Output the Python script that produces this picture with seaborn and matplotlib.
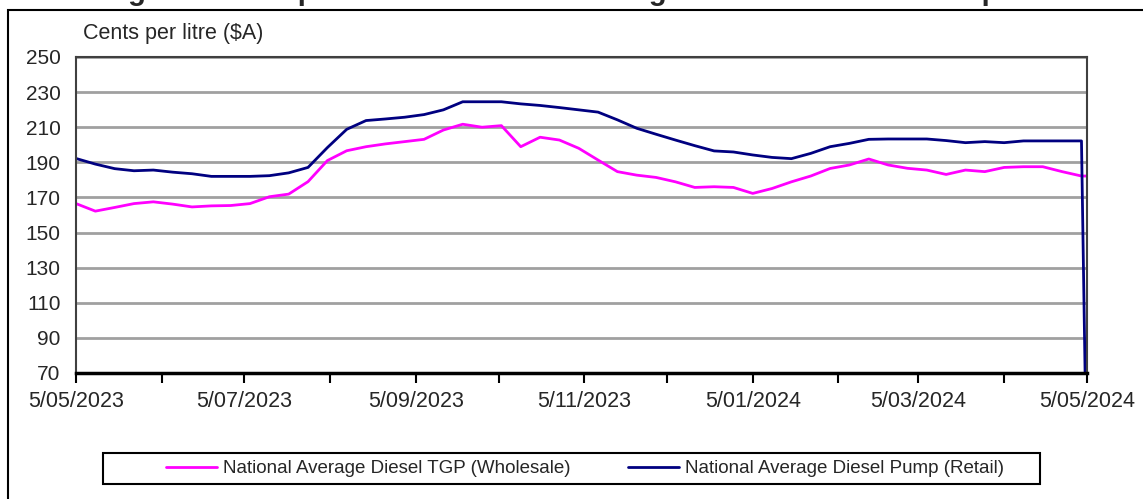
import numpy as np
import pandas as pd
import matplotlib
matplotlib.use('Agg')
import matplotlib.pyplot as plt
import matplotlib.dates as mdates
from matplotlib.patches import Rectangle
import seaborn as sns

# weekly readings from 5/05/2023, last point is 5/05/2024
dates = list(pd.date_range('2023-05-05', periods=53, freq='7D')) + [pd.Timestamp('2024-05-05')]

tgp = [166.5, 162.2, 164.3, 166.5, 167.5, 166.2, 164.6, 165.2, 165.4, 166.5, 170.4, 171.9, 179.0, 191.0,
       196.6, 198.9, 200.5, 201.8, 203.1, 208.4, 211.7, 210.0, 210.9, 198.9, 204.3, 202.7, 198.0,
       191.3, 184.7, 182.7, 181.4, 178.9, 175.7, 176.1, 175.7, 172.3, 175.1, 178.9, 182.2, 186.5,
       188.5, 191.9, 188.5, 186.6, 185.6, 183.1, 185.6, 184.7, 187.1, 187.5, 187.5, 184.7, 182.2,
       182.2]
pump = [192.2, 189.0, 186.4, 185.2, 185.6, 184.4, 183.5, 182.0, 182.0, 182.0, 182.4, 184.0, 187.1, 198.4,
        208.8, 213.8, 214.7, 215.7, 217.2, 219.9, 224.5, 224.5, 224.5, 223.3, 222.4, 221.2, 219.9,
        218.6, 214.2, 209.4, 206.0, 202.7, 199.5, 196.5, 195.9, 194.2, 192.8, 192.1, 195.1, 198.9,
        200.8, 203.1, 203.3, 203.3, 203.3, 202.4, 201.2, 201.8, 201.2, 202.2, 202.2, 202.2, 202.2,
        0.0]

series_names = ['National Average Diesel TGP (Wholesale)', 'National Average Diesel Pump (Retail)']
colours = ['#FF00FF', '#000080']
yticks = [70, 90, 110, 130, 150, 170, 190, 210, 230, 250]

df = pd.DataFrame({'date': dates * 2,
                   'price': tgp + pump,
                   'series': [series_names[0]] * len(dates) + [series_names[1]] * len(dates)})

sns.set_style('white')
plt.rcParams['font.family'] = ['Liberation Sans', 'DejaVu Sans']

W, H = 1143, 499
fig = plt.figure(figsize=(W / 100, H / 100), dpi=100)
ax = fig.add_axes([76 / W, 1 - 373 / H, (1087 - 76) / W, (373 - 57) / H])

sns.lineplot(data=df, x='date', y='price', hue='series', palette=colours,
             linewidth=2.0, ax=ax, legend=False)

ax.set_xlim(pd.Timestamp('2023-05-05'), pd.Timestamp('2024-05-05'))
ax.set_ylim(70, 250)
ax.set_yticks(yticks)
ax.yaxis.grid(True, color='#A0A0A0', linewidth=2)
ax.xaxis.grid(False)
ax.set_axisbelow(True)

ax.xaxis.set_major_locator(mdates.MonthLocator(bymonthday=5, interval=2))
ax.xaxis.set_minor_locator(mdates.MonthLocator(bymonthday=5))
ax.xaxis.set_major_formatter(plt.FuncFormatter(
    lambda v, p: '{d.day}/{d.month:02d}/{d.year}'.format(d=mdates.num2date(v))))
ax.tick_params(axis='x', which='both', direction='out', length=7, width=1.5, color='black',
               bottom=True, labelsize=15.5, pad=6)
ax.tick_params(axis='y', length=0, labelsize=15, pad=11)

for s in ['left', 'top', 'right']:
    ax.spines[s].set_color('#404040')
    ax.spines[s].set_linewidth(1.5)
ax.spines['bottom'].set_color('black')
ax.spines['bottom'].set_linewidth(2.5)
ax.set_xlabel('')
ax.set_ylabel('')

fig.text(83 / W, 1 - 33 / H, 'Cents per litre ($A)', fontsize=15.5, va='center', ha='left')

# title sits almost entirely above the top of the image
fig.text(598 / W, 1 + 0.5 / H, 'Figure 1: Comparison of National Average Diesel TGP with Pump Prices',
         fontsize=21, fontweight='bold', ha='center', va='baseline')

fig.add_artist(Rectangle((8 / W, -0.1), 1.2, 1.1 - 10 / H, transform=fig.transFigure,
                         fill=False, edgecolor='black', linewidth=1.5))

# legend box drawn separately so its padding can follow the reference
fig.add_artist(Rectangle((103 / W, 1 - 484 / H), (1040 - 103) / W, 31 / H, transform=fig.transFigure,
                         fill=False, edgecolor='black', linewidth=1.5))
handles = [plt.Line2D([], [], color=c, linewidth=2.0) for c in colours]
leg = fig.legend(handles, series_names, loc='center', bbox_to_anchor=(585 / W, 1 - 468.5 / H),
                 ncol=2, frameon=False, fontsize=13.5, handlelength=2.7,
                 handletextpad=0.3, columnspacing=3.1, borderpad=0.2)

fig.savefig('out.png', dpi=100)
